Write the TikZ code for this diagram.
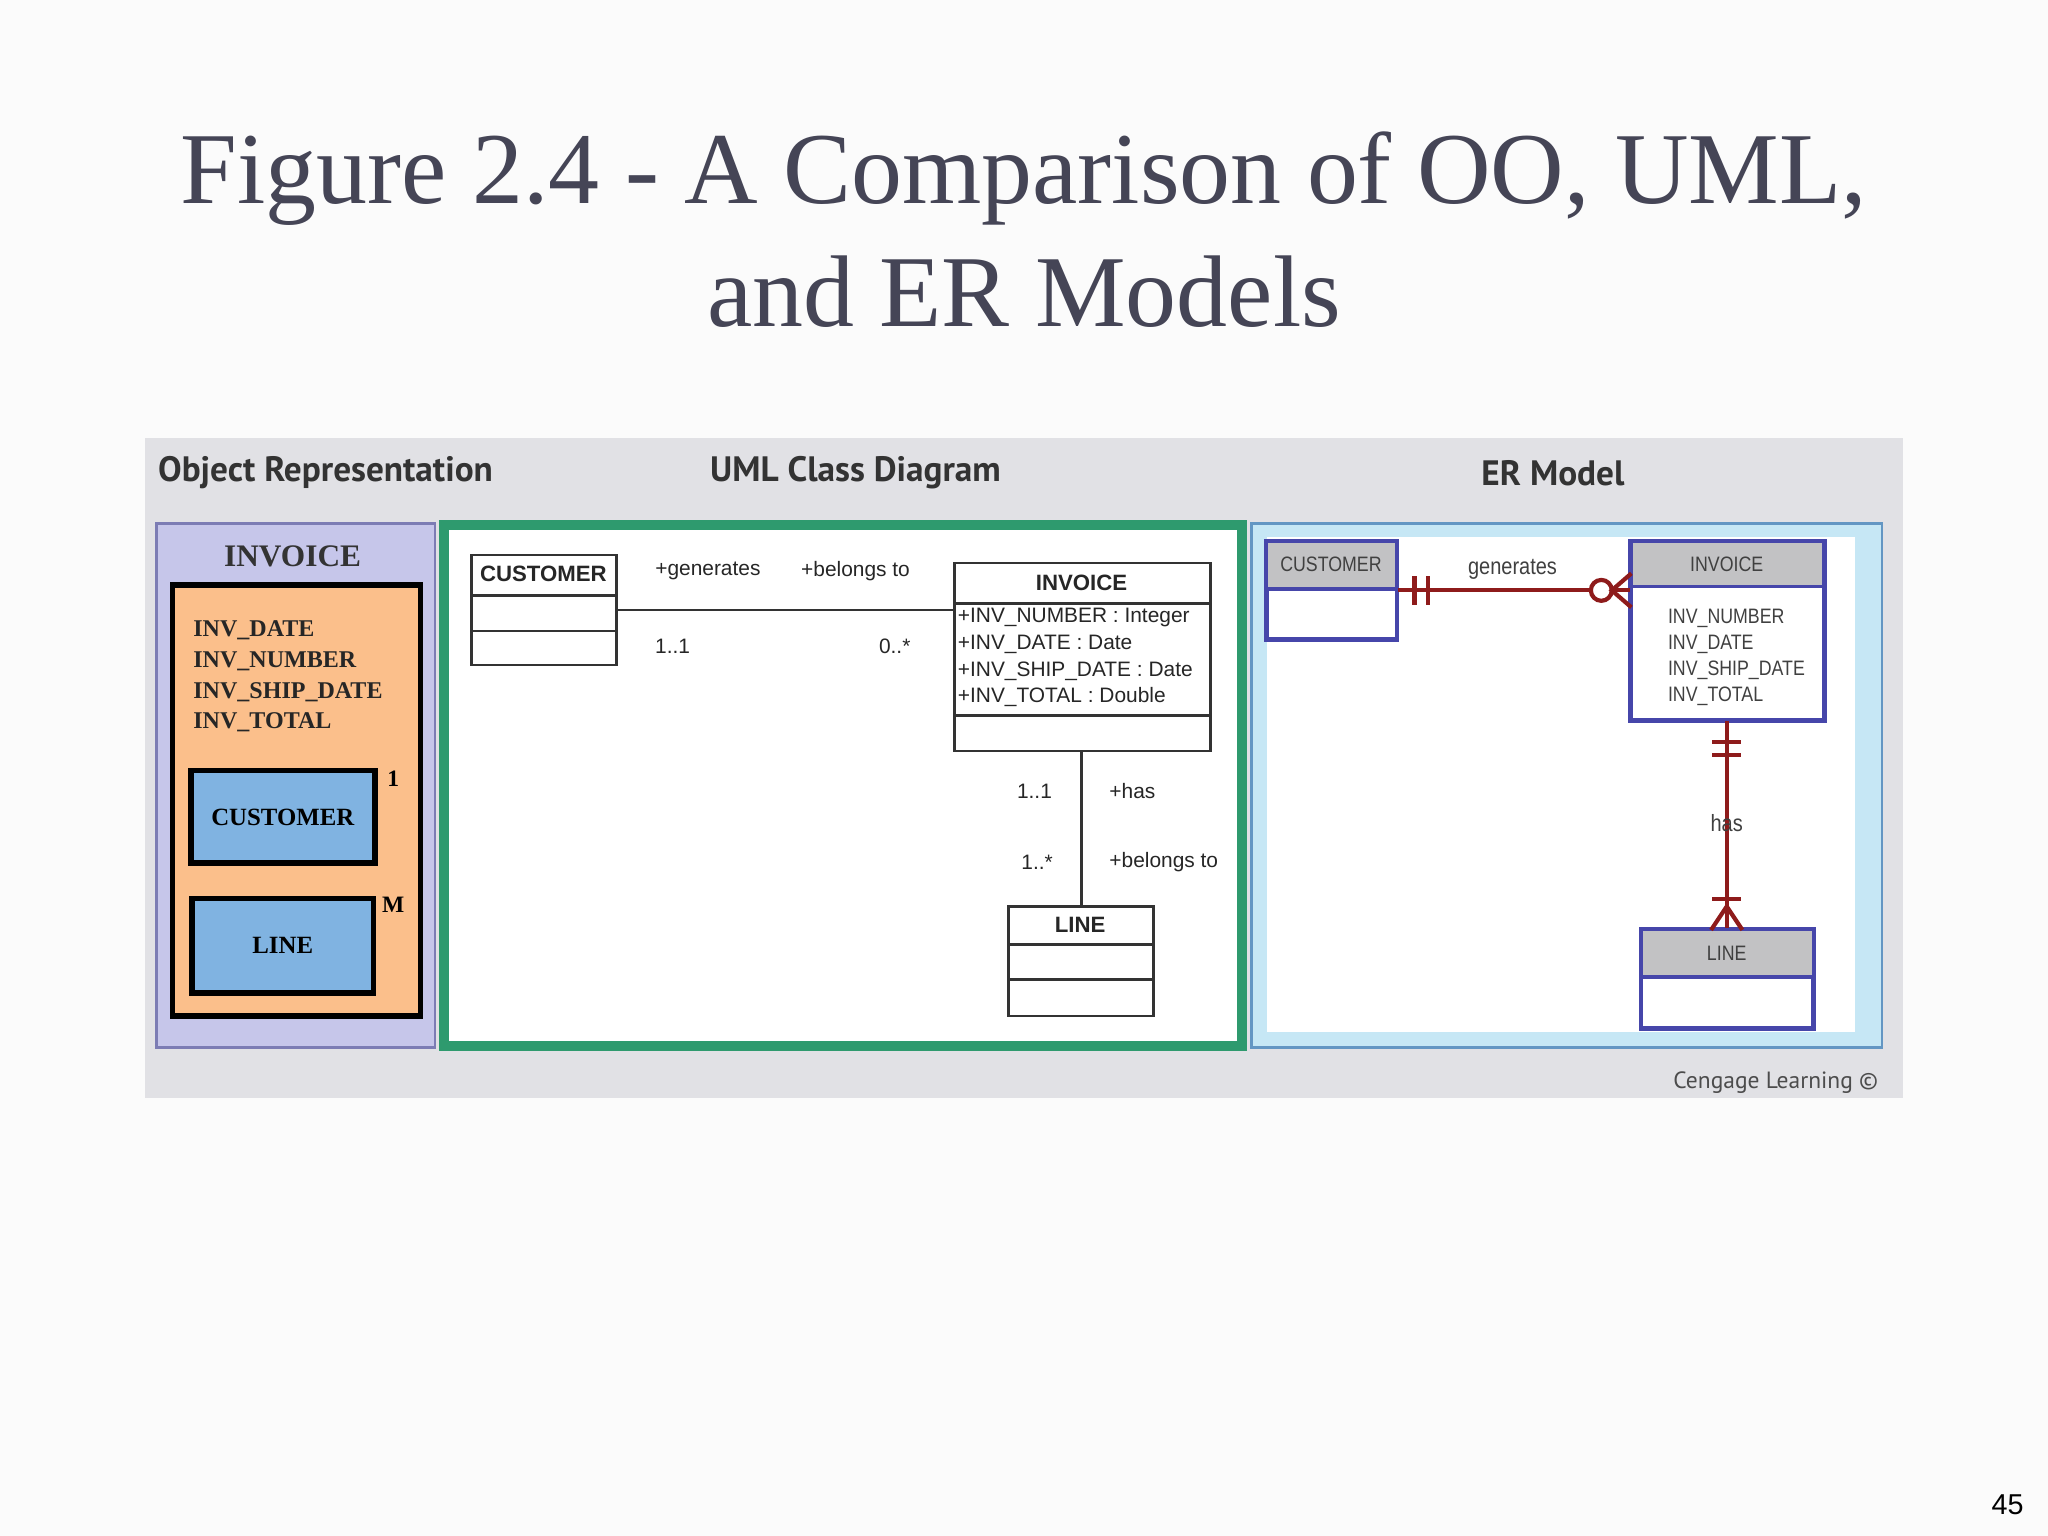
\documentclass[tikz,border=0pt]{standalone}
\usepackage{fontspec}
\setmainfont{Liberation Serif}
\newfontfamily\uisans{Liberation Sans}
\newfontfamily\hdsans{PT Sans}
\usetikzlibrary{fit}
\definecolor{titlec}{HTML}{454556}
\definecolor{panelg}{HTML}{E1E1E5}
\definecolor{lavend}{HTML}{C6C6EA}
\definecolor{lavbd}{HTML}{7C7CB4}
\definecolor{orng}{HTML}{FBBF8B}
\definecolor{blu}{HTML}{80B3E1}
\definecolor{grn}{HTML}{2E9A6E}
\definecolor{lblu}{HTML}{C6E7F5}
\definecolor{erbd}{HTML}{4646AA}
\definecolor{erred}{HTML}{8E1B1B}
\definecolor{hdgray}{HTML}{C2C2C4}
\tikzset{
  box/.style={inner sep=0pt,fit={#1}},
  umlc/.style={draw=black!80,line width=1pt,fill=white},
  erc/.style={draw=erbd,line width=1.2pt,fill=white},
  uml/.style={font=\uisans\fontsize{8}{9}\selectfont,text=black!85},
  ert/.style={font=\uisans\fontsize{8}{9}\selectfont\addfontfeature{FakeStretch=0.85},text=black!75},
  hd/.style={font=\hdsans\bfseries\fontsize{13.5}{15}\selectfont,text=black!80},
  rel/.style={draw=erred,line width=1.6pt},
}
\begin{document}
\begin{tikzpicture}[x=0.5pt,y=-0.5pt]
\fill[white!97!gray] (0,0) rectangle (1568,1176);
\useasboundingbox (0,0) rectangle (1568,1176);
% title
\node[text=titlec,font=\fontsize{39}{46}\selectfont,align=center] (title) at (784,176)
  {Figure 2.4 - A Comparison of OO, UML,\\[1pt]and ER Models};
% gray panel
\node[box={(111,335)(1457,841)},fill=panelg] (panel) {};
\node[hd,anchor=west] (h1) at (114,362) {Object Representation};
\node[hd] (h2) at (655,362) {UML Class Diagram};
\node[hd] (h3) at (1189,362) {ER Model};
\node[font=\hdsans\fontsize{9}{10}\selectfont,text=black!70,anchor=east] (cr) at (1445,829) {Cengage Learning \textcopyright};
% object representation
\node[box={(120,401)(333,802)},fill=lavend,draw=lavbd,line width=1pt] (opan) {};
\node[font=\bfseries\fontsize{12}{13}\selectfont,text=black!80] (oinvt) at (224,426) {INVOICE};
\node[box={(132,448)(322,778)},fill=orng,draw=black,line width=2.2pt] (oinv) {};
\node[anchor=north west,align=left,font=\bfseries\fontsize{9.2}{11.8}\selectfont,text=black!85] (oattr) at (141,468)
  {INV\_DATE\\INV\_NUMBER\\INV\_SHIP\_DATE\\INV\_TOTAL};
\node[box={(146,590)(287,661)},fill=blu,draw=black,line width=2.2pt,
  label={[font=\bfseries\fontsize{9.5}{11}\selectfont]center:CUSTOMER}] (ocust) {};
\node[box={(147,688)(286,760)},fill=blu,draw=black,line width=2.2pt,
  label={[font=\bfseries\fontsize{9.5}{11}\selectfont]center:LINE}] (oline) {};
\node[font=\bfseries\fontsize{9}{10}\selectfont] (o1) at (301,596) {1};
\node[font=\bfseries\fontsize{9}{10}\selectfont] (om) at (301,693) {M};
% UML panel
\node[box={(340,402)(951,801)},fill=white,draw=grn,line width=4pt] (upan) {};
\node[box={(361,425)(472,509)},umlc] (ucust) {};
\draw[black!80,line width=1pt] (361,456) -- (472,456) (361,483) -- (472,483);
\node[uml,font=\uisans\bfseries\fontsize{8.5}{9}\selectfont] (ucustt) at (416,439) {CUSTOMER};
\node[box={(731,431)(927,575)},umlc] (uinv) {};
\draw[black!80,line width=1pt] (731,462) -- (927,462) (731,548) -- (927,548);
\node[uml,font=\uisans\bfseries\fontsize{8.5}{9}\selectfont] (uinvt) at (828,446) {INVOICE};
\node[uml,anchor=north west,align=left,inner sep=1pt,font=\uisans\fontsize{8}{10.3}\selectfont] (uattr) at (731,463)
  {+INV\_NUMBER : Integer\\+INV\_DATE : Date\\+INV\_SHIP\_DATE : Date\\+INV\_TOTAL : Double};
\node[box={(772,694)(883,778)},umlc] (uline) {};
\draw[black!80,line width=1pt] (772,723) -- (883,723) (772,750) -- (883,750);
\node[uml,font=\uisans\bfseries\fontsize{8.5}{9}\selectfont] (ulinet) at (827,708) {LINE};
\draw[black!80,line width=0.8pt] (ucust.east|-0,467) -- (uinv.west|-0,467);
\draw[black!80,line width=0.8pt] (828,575) -- (828,694);
\node[uml] (l1) at (542,437) {+generates};
\node[uml] (l2) at (655,437) {+belongs to};
\node[uml] (l3) at (515,495) {1..1};
\node[uml] (l4) at (685,495) {0..*};
\node[uml] (l5) at (792,606) {1..1};
\node[uml] (l6) at (867,606) {+has};
\node[uml] (l7) at (794,660) {1..*};
\node[uml] (l8) at (891,660) {+belongs to};
% ER panel
\node[box={(958,401)(1441,802)},fill=lblu,draw=lavbd!80!cyan,line width=1pt] (epan) {};
\fill[white] (970,411) rectangle (1420,790);
\node[box={(970,415)(1069,489)},erc] (ecust) {};
\fill[hdgray] (971,416) rectangle (1068,451);
\draw[erbd,line width=1.2pt] (ecust.north west) rectangle (ecust.south east) (970,451) -- (1069,451);
\node[ert] (ecustt) at (1019,432) {CUSTOMER};
\node[box={(1249,415)(1396,551)},erc] (einv) {};
\fill[hdgray] (1250,416) rectangle (1395,449);
\draw[erbd,line width=1.2pt] (einv.north west) rectangle (einv.south east) (1249,449) -- (1396,449);
\node[ert] (einvt) at (1322,432) {INVOICE};
\node[ert,anchor=north west,align=left,font=\uisans\fontsize{8}{10}\selectfont\addfontfeature{FakeStretch=0.85}] (eattr) at (1270,459)
  {INV\_NUMBER\\INV\_DATE\\INV\_SHIP\_DATE\\INV\_TOTAL};
\node[box={(1257,712)(1388,787)},erc] (eline) {};
\fill[hdgray] (1258,713) rectangle (1387,748);
\draw[erbd,line width=1.2pt] (eline.north west) rectangle (eline.south east) (1257,748) -- (1388,748);
\node[ert] (elinet) at (1322,730) {LINE};
% relationships
\draw[rel] (ecust.east|-0,452) -- (einv.west|-0,452);
\draw[rel] (1083,441) -- (1083,463) (1093,441) -- (1093,463);
\draw[rel,fill=white] (1226,452) circle (8);
\draw[rel] (1249,439) -- (1234,452) -- (1249,465);
\node[font=\uisans\fontsize{9}{10}\selectfont\addfontfeature{FakeStretch=0.85},text=black!75] (egen) at (1158,436) {generates};
\draw[rel] (einv.south-|1322,0) -- (eline.north-|1322,0);
\draw[rel] (1311,568) -- (1333,568) (1311,578) -- (1333,578);
\draw[rel] (1311,688) -- (1333,688);
\draw[rel] (1310,712) -- (1322,694) -- (1334,712);
\node[font=\uisans\fontsize{9}{10}\selectfont\addfontfeature{FakeStretch=0.85},text=black!75] (ehas) at (1322,630) {has};
% page number
\node[font=\uisans\fontsize{11}{12}\selectfont] (pg) at (1537,1152) {45};
\end{tikzpicture}
\end{document}
